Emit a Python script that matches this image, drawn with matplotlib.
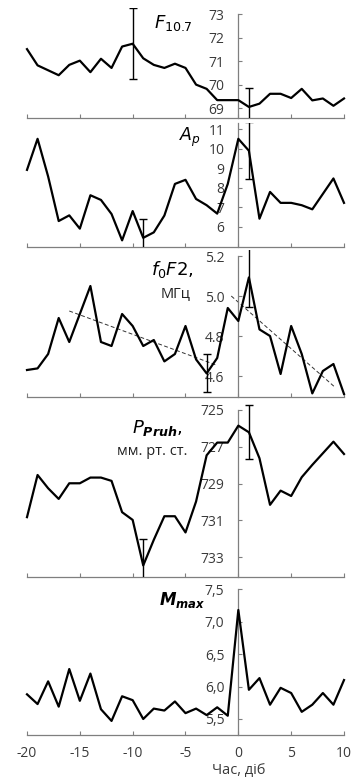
"""Superposed-epoch plots: F10.7, Ap, foF2, pressure and Mmax around day 0."""

import numpy as np
import matplotlib
matplotlib.use("Agg")
import matplotlib.pyplot as plt
from matplotlib.ticker import FuncFormatter

plt.rcParams['font.family'] = ['Open Sans', 'DejaVu Sans']
plt.rcParams['axes.unicode_minus'] = False
plt.rcParams['mathtext.fontset'] = 'dejavusans'

days = np.arange(-20, 11)

f107 = [71.52, 70.83, 70.62, 70.41, 70.85, 71.03, 70.54, 71.11, 70.72, 71.63,
        71.75, 71.13, 70.85, 70.72, 70.90, 70.72, 70.01, 69.83, 69.35, 69.35,
        69.35, 69.06, 69.20, 69.62, 69.62, 69.44, 69.83, 69.34, 69.42, 69.11,
        69.42]

ap = [8.91, 10.50, 8.57, 6.29, 6.58, 5.90, 7.61, 7.37, 6.65, 5.30,
      6.80, 5.43, 5.71, 6.57, 8.19, 8.40, 7.42, 7.10, 6.67, 8.19,
      10.50, 9.89, 6.41, 7.78, 7.22, 7.22, 7.10, 6.89, 7.68, 8.47,
      7.22]

fof2 = [4.630, 4.638, 4.710, 4.890, 4.770, 4.910, 5.050, 4.770, 4.750, 4.910,
        4.850, 4.750, 4.780, 4.673, 4.710, 4.850, 4.683, 4.613, 4.690, 4.940,
        4.875, 5.093, 4.833, 4.800, 4.610, 4.850, 4.710, 4.513, 4.625, 4.660,
        4.510]

pressure = [730.82, 728.53, 729.25, 729.83, 728.98, 728.98, 728.67, 728.67, 728.85, 730.55,
            730.97, 733.44, 732.05, 730.77, 730.77, 731.65, 729.97, 727.46, 726.77, 726.77,
            725.85, 726.21, 727.62, 730.15, 729.38, 729.67, 728.65, 727.98, 727.35, 726.72,
            727.39]

mmax = [5.88, 5.73, 6.08, 5.69, 6.27, 5.78, 6.20, 5.65, 5.47, 5.85,
        5.79, 5.50, 5.66, 5.63, 5.77, 5.59, 5.66, 5.56, 5.68, 5.55,
        7.18, 5.95, 6.13, 5.72, 5.98, 5.90, 5.61, 5.72, 5.90, 5.72,
        6.10]

# error bars: (day, half-width)
f107_err = [(-10, 1.5), (1, 0.81)]
ap_err = [(-9, 0.95), (1, 1.46)]
fof2_err = [(-3, 0.095), (1, 0.15)]
pressure_err = [(-9, 1.44), (1, 1.46)]

# linear trends before and after day 0
fof2_trend1 = ([-16, -2], [4.925, 4.653])
fof2_trend2 = ([-0.67, 9.08], [5.0, 4.547])

W, H = 357, 780
fig = plt.figure(figsize=(W / 100, H / 100), dpi=100)

TICK_COLOR = '#3a3a3a'
AXIS_COLOR = '#7f7f7f'


def add_panel(top, bottom, ylim, yticks, spine_top=None, fmt=None):
    ax = fig.add_axes([27 / W, 1 - bottom / H, (344 - 27) / W, (bottom - top) / H])
    ax.set_xlim(-20, 10)
    ax.set_ylim(*ylim)
    ax.spines[['top', 'right']].set_visible(False)
    ax.spines['left'].set_position(('data', 0))
    for side in ('left', 'bottom'):
        ax.spines[side].set_color(AXIS_COLOR)
        ax.spines[side].set_linewidth(0.9)
    if spine_top is not None:
        ax.spines['left'].set_bounds(min(ylim[0], spine_top), max(ylim[0], spine_top))
    ax.set_xticks(range(-20, 11, 5))
    ax.set_yticks(yticks)
    if fmt:
        ax.yaxis.set_major_formatter(FuncFormatter(fmt))
    ax.tick_params(axis='x', direction='in', length=3, color=AXIS_COLOR,
                   labelbottom=False)
    ax.tick_params(axis='y', direction='in', length=3, color=AXIS_COLOR,
                   pad=10, labelsize=10, labelcolor=TICK_COLOR)
    ax.patch.set_alpha(0)
    return ax


def draw_series(ax, y, errs):
    ax.plot(days, y, color='black', lw=1.6, clip_on=False, zorder=3)
    for d, e in errs:
        ax.errorbar(d, y[list(days).index(d)], yerr=e, fmt='none', ecolor='black',
                    elinewidth=1.0, capsize=3, capthick=1.0, zorder=4)


# --- F10.7 ---
ax1 = add_panel(8, 118, (68.59, 73.27), range(69, 74), spine_top=73)
draw_series(ax1, f107, f107_err)
fig.text(154 / W, 1 - 23 / H, r'$F_{10.7}$', fontsize=13, va='center', ha='left')

# --- Ap ---
ax2 = add_panel(123, 247, (4.96, 11.31), range(6, 12))
draw_series(ax2, ap, ap_err)
fig.text(179 / W, 1 - 137 / H, r'$A_p$', fontsize=12.5, va='center', ha='left')

# --- foF2 ---
ax3 = add_panel(250, 397, (4.495, 5.23), [4.6, 4.8, 5.0, 5.2], spine_top=5.2,
                fmt=lambda v, p: f'{v:.1f}')
draw_series(ax3, fof2, fof2_err)
for xs, ys in (fof2_trend1, fof2_trend2):
    ax3.plot(xs, ys, color='#333333', lw=0.7, linestyle=(0, (4, 2.5)), zorder=2)
fig.text(151 / W, 1 - 270 / H, r'$f_{0}F2,$', fontsize=13, va='center', ha='left')
fig.text(176 / W, 1 - 294 / H, 'МГц', fontsize=10.5, va='center', ha='center',
         color='#222222')

# --- pressure (inverted axis) ---
ax4 = add_panel(403, 577, (734.07, 724.62), range(725, 734, 2), spine_top=725)
draw_series(ax4, pressure, pressure_err)
fig.text(132 / W, 1 - 428 / H, r'$P_{\mathbfit{Pruh}},$', fontsize=13,
         va='center', ha='left')
fig.text(152 / W, 1 - 451 / H, 'мм. рт. ст.', fontsize=10.5, va='center',
         ha='center', color='#222222')

# --- Mmax ---
ax5 = add_panel(586, 735, (5.253, 7.55), [5.5, 6.0, 6.5, 7.0, 7.5], spine_top=7.5,
                fmt=lambda v, p: f'{v:.1f}'.replace('.', ','))
draw_series(ax5, mmax, [])
fig.text(159 / W, 1 - 600 / H, r'$\mathbfit{M}_{\mathbfit{max}}$', fontsize=12,
         va='center', ha='left')
ax5.tick_params(axis='x', labelbottom=True, labelsize=10, labelcolor=TICK_COLOR,
                pad=8)
ax5.set_xlabel('Час, діб', fontsize=10.5, color=TICK_COLOR)
ax5.xaxis.set_label_coords(20 / 30, -0.185)

fig.savefig('out.png', dpi=100)
